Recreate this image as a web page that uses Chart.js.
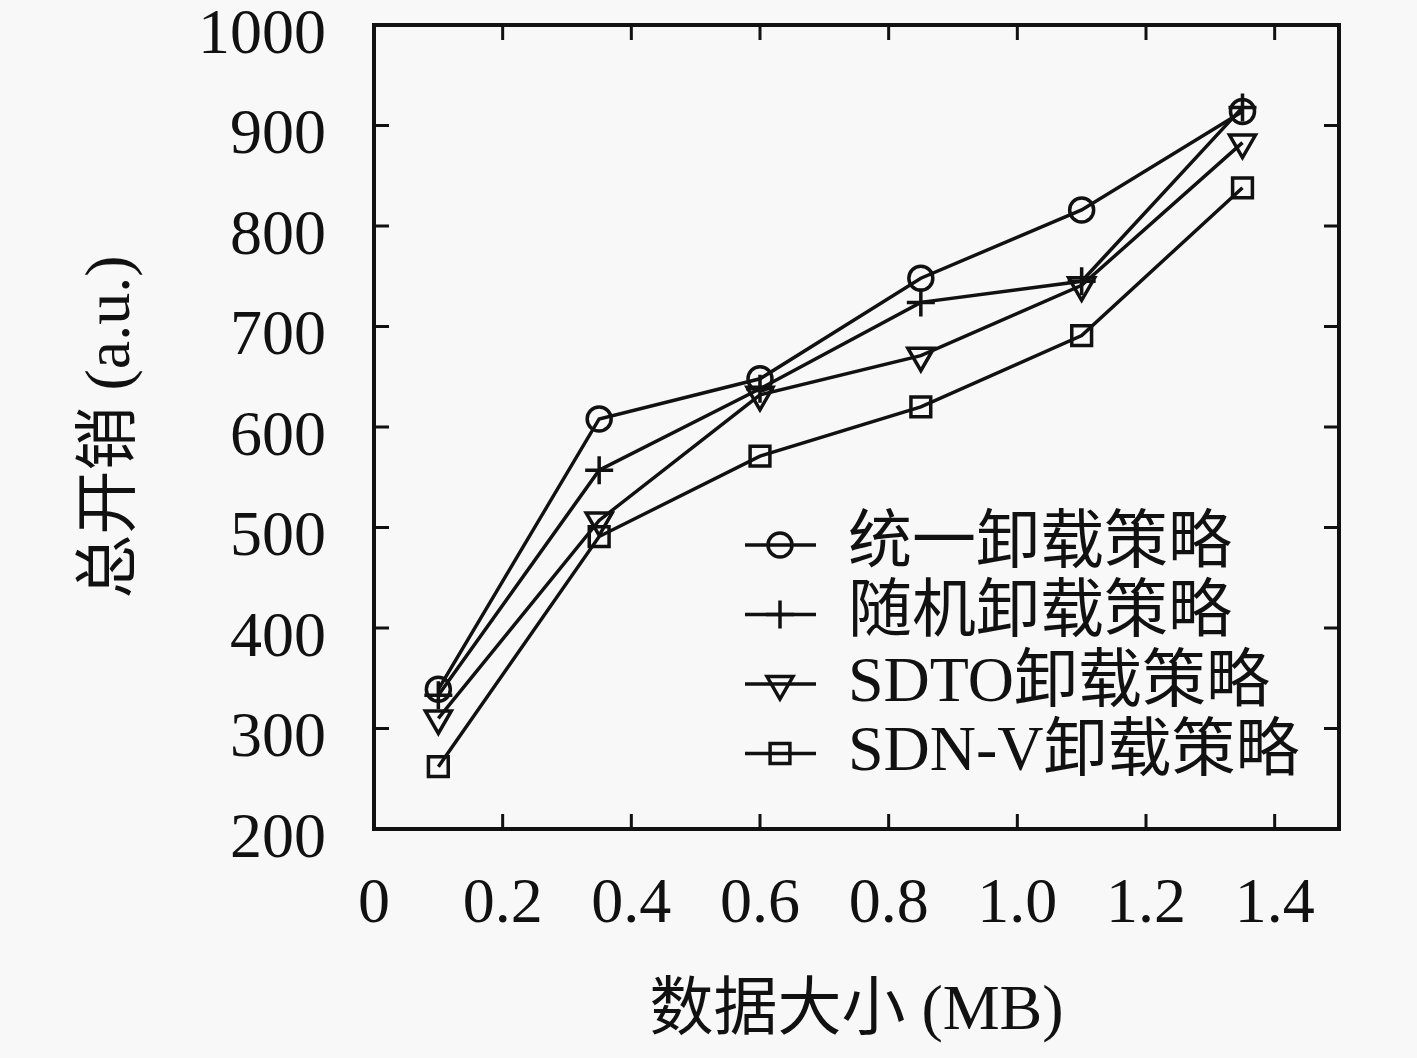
<!DOCTYPE html>
<html>
<head>
<meta charset="utf-8">
<script src="https://cdn.jsdelivr.net/npm/chart.js@4.4.0/dist/chart.umd.min.js"></script>
<style>
  html, body { margin: 0; padding: 0; background: #f8f8f8; }
  #wrap { width: 1417px; height: 1058px; position: relative; }
</style>
</head>
<body>
<div id="wrap"><canvas id="chart"></canvas></div>
<script>
// data
const X_VALUES = [0.1, 0.35, 0.6, 0.85, 1.1, 1.35]
const UNIFORM  = [339, 608, 648, 748, 816, 914]
const RANDOM   = [333, 557, 638, 724, 745, 918]
const SDTO     = [310, 507, 632, 671, 741, 883]
const SDNV     = [262, 491, 571, 620, 691, 838]

const SERIES_LABELS = ['统一卸载策略', '随机卸载策略', 'SDTO卸载策略', 'SDN-V卸载策略']
const X_TICKS       = [0, 0.2, 0.4, 0.6, 0.8, 1.0, 1.2, 1.4]
const X_TICK_LABELS = ['0', '0.2', '0.4', '0.6', '0.8', '1.0', '1.2', '1.4']
const Y_TICKS       = [200, 300, 400, 500, 600, 700, 800, 900, 1000]
const Y_TICK_LABELS = ['200', '300', '400', '500', '600', '700', '800', '900', '1000']
const X_TITLE = '数据大小 (MB)'
const Y_TITLE = '总开销 (a.u.)'

const INK  = '#111'
const FONT = '"Liberation Serif", "Noto Sans CJK SC", serif'
const STROKE = 3.5

const toPoints = ys => X_VALUES.map((x, i) => ({ x, y: ys[i] }))

function series(label, ys, style, radius, rotation) {
  return {
    label,
    data: toPoints(ys),
    borderColor: INK,
    borderWidth: STROKE,
    tension: 0,
    pointStyle: style,
    pointRadius: radius,
    pointRotation: rotation || 0,
    pointBorderWidth: STROKE,
    pointBorderColor: INK,
    pointBackgroundColor: 'rgba(0,0,0,0)'
  }
}

// closed box with inward ticks on all four sides
const framePlugin = {
  id: 'frame',
  afterDatasetsDraw(chart) {
    const { ctx, chartArea: a, scales: { x, y } } = chart
    const tl = 15
    ctx.save()
    ctx.strokeStyle = INK
    ctx.lineWidth = 3
    ctx.beginPath()
    X_TICKS.forEach(v => {
      const px = x.getPixelForValue(v)
      ctx.moveTo(px, a.bottom); ctx.lineTo(px, a.bottom - tl)
      ctx.moveTo(px, a.top);    ctx.lineTo(px, a.top + tl)
    })
    Y_TICKS.forEach(v => {
      const py = y.getPixelForValue(v)
      ctx.moveTo(a.left, py);  ctx.lineTo(a.left + tl, py)
      ctx.moveTo(a.right, py); ctx.lineTo(a.right - tl, py)
    })
    ctx.stroke()
    ctx.lineWidth = 4
    ctx.strokeRect(a.left, a.top, a.right - a.left, a.bottom - a.top)
    ctx.restore()
  }
}

const textPlugin = {
  id: 'texts',
  afterDraw(chart) {
    const { ctx, chartArea: a } = chart
    ctx.save()
    ctx.fillStyle = INK
    ctx.font = '64px ' + FONT
    ctx.textBaseline = 'middle'

    // axis titles
    ctx.textAlign = 'center'
    ctx.fillText(X_TITLE, (a.left + a.right) / 2, 1012)
    ctx.save()
    ctx.translate(112, (a.top + a.bottom) / 2)
    ctx.rotate(-Math.PI / 2)
    ctx.fillText(Y_TITLE, 0, 0)
    ctx.restore()

    // legend inside the plot
    ctx.textAlign = 'left'
    chart.data.datasets.forEach((ds, i) => {
      const ly = 545 + i * 69.5
      ctx.strokeStyle = INK
      ctx.lineWidth = STROKE
      ctx.beginPath()
      ctx.moveTo(745, ly); ctx.lineTo(816, ly)
      ctx.stroke()
      ctx.fillStyle = 'rgba(0,0,0,0)'
      Chart.helpers.drawPoint(ctx, {
        pointStyle: ds.pointStyle,
        radius: ds.pointRadius,
        rotation: ds.pointRotation,
        borderWidth: STROKE
      }, 780, ly)
      ctx.fillStyle = INK
      ctx.fillText(ds.label, 848, ly)
    })
    ctx.restore()
  }
}

new Chart(document.getElementById('chart').getContext('2d'), {
  type: 'line',
  data: {
    datasets: [
      series(SERIES_LABELS[0], UNIFORM, 'circle', 12),
      series(SERIES_LABELS[1], RANDOM, 'cross', 14),
      series(SERIES_LABELS[2], SDTO, 'triangle', 15, 180),
      series(SERIES_LABELS[3], SDNV, 'rect', 14)
    ]
  },
  options: {
    responsive: true,
    maintainAspectRatio: false,
    animation: false,
    layout: { padding: { top: 25, right: 78, left: 0, bottom: 0 } },
    plugins: { legend: { display: false }, tooltip: { enabled: false } },
    scales: {
      x: {
        type: 'linear',
        min: 0, max: 1.5,
        grid: { display: false, drawTicks: false },
        border: { display: false },
        afterBuildTicks: s => { s.ticks = X_TICKS.map(v => ({ value: v })) },
        afterFit: s => {
          s.height = 229
          s.paddingLeft = 0; s.paddingRight = 0; s.paddingTop = 0; s.paddingBottom = 0
        },
        ticks: {
          color: INK,
          font: { family: FONT, size: 64 },
          padding: 38,
          autoSkip: false,
          maxRotation: 0,
          callback: (v, i) => X_TICK_LABELS[i]
        }
      },
      y: {
        min: 200, max: 1000,
        grid: { display: false, drawTicks: false },
        border: { display: false },
        afterBuildTicks: s => { s.ticks = Y_TICKS.map(v => ({ value: v })) },
        afterFit: s => {
          s.width = 374
          s.paddingLeft = 0; s.paddingRight = 0; s.paddingTop = 0; s.paddingBottom = 0
        },
        ticks: {
          color: INK,
          font: { family: FONT, size: 64 },
          padding: 48,
          labelOffset: 11,
          autoSkip: false,
          callback: (v, i) => Y_TICK_LABELS[i]
        }
      }
    }
  },
  plugins: [framePlugin, textPlugin]
})
</script>
</body>
</html>
